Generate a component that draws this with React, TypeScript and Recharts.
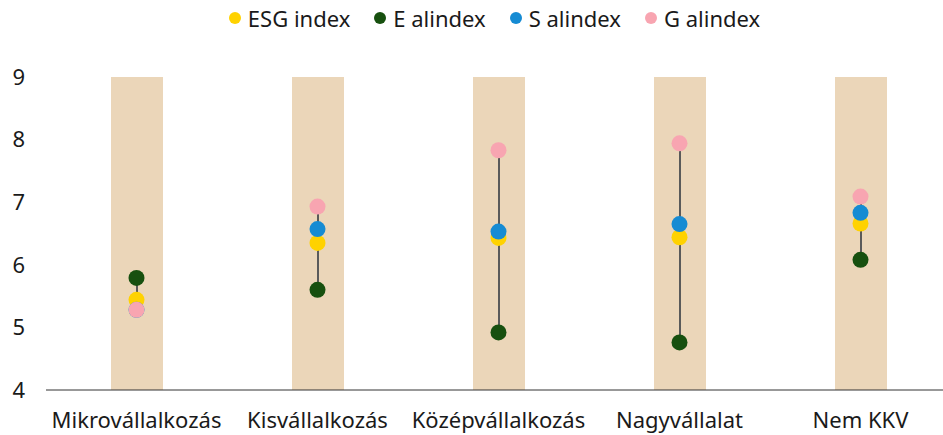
import React from 'react';
import { ComposedChart, Bar, Scatter, XAxis, YAxis, Legend } from 'recharts';

const categories = ['Mikrovállalkozás', 'Kisvállalkozás', 'Középvállalkozás', 'Nagyvállalat', 'Nem KKV'];
const esgIndex = [5.44, 6.35, 6.43, 6.44, 6.66];
const eIndex = [5.79, 5.6, 4.92, 4.76, 6.08];
const sIndex = [5.28, 6.57, 6.53, 6.65, 6.83];
const gIndex = [5.28, 6.93, 7.83, 7.94, 7.09];
const yTicks = [4, 5, 6, 7, 8, 9];

const seriesInfo = [
  { key: 'esg', name: 'ESG index', color: '#ffd200' },
  { key: 'e', name: 'E alindex', color: '#17500f' },
  { key: 's', name: 'S alindex', color: '#168bd3' },
  { key: 'g', name: 'G alindex', color: '#f8a5b1' },
];

const data = categories.map((name, i) => {
  const vals = [esgIndex[i], eIndex[i], sIndex[i], gIndex[i]];
  return {
    name,
    esg: esgIndex[i],
    e: eIndex[i],
    s: sIndex[i],
    g: gIndex[i],
    band: 9,
    range: [Math.min(...vals), Math.max(...vals)],
  };
});

const FONT = '"Noto Sans", sans-serif';

const Dot = (color: string) => (props: any) => (
  <circle cx={props.cx} cy={props.cy} r={8} fill={color} />
);

const renderLegend = () => (
  <div style={{ display: 'flex', justifyContent: 'center', gap: 24, paddingLeft: 38, fontFamily: FONT, fontSize: 22, color: '#1a1a1a' }}>
    {seriesInfo.map((s) => (
      <span key={s.key} style={{ display: 'flex', alignItems: 'center' }}>
        <span style={{ width: 12, height: 12, borderRadius: '50%', background: s.color, marginRight: 7, display: 'inline-block' }} />
        {s.name}
      </span>
    ))}
  </div>
);

export default function App() {
  return (
    <div style={{ position: 'absolute', left: 0, top: 0, width: 943, height: 435, overflow: 'hidden', background: '#fff' }}>
      <ComposedChart width={951} height={435} data={data} margin={{ top: 47, right: 0, bottom: 0, left: 0 }}>
        <XAxis
          dataKey="name"
          stroke="#333"
          tickLine={false}
          tickSize={0}
          tickMargin={22}
          tick={{ fill: '#1a1a1a', fontSize: 22, fontFamily: FONT }}
          height={45}
        />
        <XAxis dataKey="name" xAxisId="line" hide />
        <YAxis
          domain={[4, 9]}
          ticks={yTicks}
          axisLine={false}
          tickLine={false}
          tickSize={0}
          tickMargin={21}
          width={46}
          tick={{ fill: '#1a1a1a', fontSize: 22, fontFamily: FONT }}
        />
        <Legend verticalAlign="top" content={renderLegend} wrapperStyle={{ top: 3 }} />
        <Bar dataKey="band" fill="#ebd6b9" barSize={52} isAnimationActive={false} legendType="none" />
        <Bar dataKey="range" xAxisId="line" fill="#5a5a5a" barSize={2} isAnimationActive={false} legendType="none" />
        {seriesInfo.map((s) => (
          <Scatter
            key={s.key}
            dataKey={s.key}
            name={s.name}
            fill={s.color}
            shape={Dot(s.color)}
            isAnimationActive={false}
          />
        ))}
      </ComposedChart>
    </div>
  );
}
